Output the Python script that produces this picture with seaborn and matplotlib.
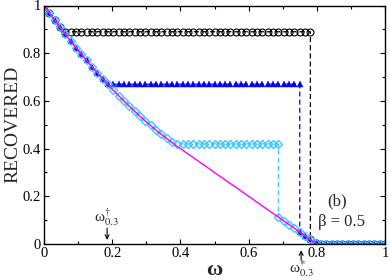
import matplotlib
matplotlib.use("Agg")
import matplotlib.pyplot as plt
from matplotlib.ticker import MultipleLocator, FuncFormatter
import pandas as pd
import seaborn as sns

# ---------------- data ----------------
omega = [0.0, 0.0156, 0.0312, 0.0469, 0.0625, 0.0781, 0.0938, 0.1094, 0.125, 0.1406,
         0.1562, 0.1719, 0.1875, 0.2031, 0.2188, 0.2344, 0.25, 0.2656, 0.2812, 0.2969,
         0.3125, 0.3281, 0.3438, 0.3594, 0.375, 0.3906, 0.4062, 0.4219, 0.4375, 0.4531,
         0.4688, 0.4844, 0.5, 0.5156, 0.5312, 0.5469, 0.5625, 0.5781, 0.5938, 0.6094,
         0.625, 0.6406, 0.6562, 0.6719, 0.6875, 0.7031, 0.7188, 0.7344, 0.75, 0.7656,
         0.7812, 0.7969, 0.8125, 0.8281, 0.8438, 0.8594, 0.875, 0.8906, 0.9062, 0.9219,
         0.9375, 0.9531, 0.9688, 0.9844, 1.0]

# solid magenta curve
curve = [1.000, 0.969, 0.939, 0.909, 0.880, 0.851, 0.823, 0.796, 0.770, 0.743,
         0.718, 0.693, 0.669, 0.645, 0.622, 0.600, 0.578, 0.557, 0.536, 0.516,
         0.497, 0.478, 0.460, 0.443, 0.426, 0.409, 0.394, 0.378, 0.363, 0.347,
         0.331, 0.316, 0.300, 0.284, 0.269, 0.253, 0.238, 0.222, 0.206, 0.191,
         0.175, 0.159, 0.144, 0.128, 0.113, 0.097, 0.081, 0.066, 0.050, 0.034,
         0.019, 0.003, 0, 0, 0, 0, 0, 0, 0, 0,
         0, 0, 0, 0, 0]

# black open circles (extra point = drop at index black_drop)
black_drop = 50
black_y = [1.000, 0.969, 0.939, 0.909, 0.890, 0.890, 0.890, 0.890, 0.890, 0.890,
           0.890, 0.890, 0.890, 0.890, 0.890, 0.890, 0.890, 0.890, 0.890, 0.890,
           0.890, 0.890, 0.890, 0.890, 0.890, 0.890, 0.890, 0.890, 0.890, 0.890,
           0.890, 0.890, 0.890, 0.890, 0.890, 0.890, 0.890, 0.890, 0.890, 0.890,
           0.890, 0.890, 0.890, 0.890, 0.890, 0.890, 0.890, 0.890, 0.890, 0.890,
           0.890, 0.019, 0.003, 0, 0, 0, 0, 0, 0, 0,
           0, 0, 0, 0, 0, 0]

# blue filled triangles
blue_drop = 48
blue_y = [1.000, 0.969, 0.939, 0.909, 0.880, 0.851, 0.823, 0.796, 0.770, 0.743,
          0.718, 0.693, 0.670, 0.670, 0.670, 0.670, 0.670, 0.670, 0.670, 0.670,
          0.670, 0.670, 0.670, 0.670, 0.670, 0.670, 0.670, 0.670, 0.670, 0.670,
          0.670, 0.670, 0.670, 0.670, 0.670, 0.670, 0.670, 0.670, 0.670, 0.670,
          0.670, 0.670, 0.670, 0.670, 0.670, 0.670, 0.670, 0.670, 0.670, 0.050,
          0.034, 0.019, 0.003, 0, 0, 0, 0, 0, 0, 0,
          0, 0, 0, 0, 0, 0]

# cyan open diamonds
cyan_drop = 44
cyan_y = [1.000, 0.969, 0.939, 0.909, 0.880, 0.851, 0.823, 0.796, 0.770, 0.743,
          0.718, 0.693, 0.669, 0.645, 0.622, 0.600, 0.578, 0.557, 0.536, 0.516,
          0.497, 0.478, 0.460, 0.443, 0.426, 0.420, 0.420, 0.420, 0.420, 0.420,
          0.420, 0.420, 0.420, 0.420, 0.420, 0.420, 0.420, 0.420, 0.420, 0.420,
          0.420, 0.420, 0.420, 0.420, 0.420, 0.113, 0.097, 0.081, 0.066, 0.050,
          0.034, 0.019, 0.003, 0, 0, 0, 0, 0, 0, 0,
          0, 0, 0, 0, 0, 0]

x_ticks = [0, 0.2, 0.4, 0.6, 0.8, 1.0]
y_ticks = [0, 0.2, 0.4, 0.6, 0.8, 1.0]


def frame(drop, ys):
    xs = omega[:drop + 1] + [omega[drop]] + omega[drop + 1:]
    return pd.DataFrame({"omega": xs, "recovered": ys})


df_black = frame(black_drop, black_y)
df_blue = frame(blue_drop, blue_y)
df_cyan = frame(cyan_drop, cyan_y)
df_curve = pd.DataFrame({"omega": omega, "recovered": curve})

# ---------------- style ----------------
sns.set_theme(style="ticks")
plt.rcParams["font.family"] = ["Liberation Serif", "DejaVu Serif"]
plt.rcParams["mathtext.fontset"] = "stix"

fig = plt.figure(figsize=(3.9, 2.8), dpi=100)
ax = fig.add_axes([44 / 390, 1 - 244 / 280, (385 - 44) / 390, (244 - 5.5) / 280])

common = dict(ax=ax, x="omega", y="recovered", estimator=None, sort=False, legend=False)

sns.lineplot(data=df_black, color="black", marker="o", markersize=5.0,
             markerfacecolor="none", markeredgecolor="black", markeredgewidth=0.8,
             linewidth=0.9, linestyle="--", **common)
ax.lines[-1].set_dashes((4, 2.5))

sns.lineplot(data=df_blue, color="#0000ff", marker="^", markersize=4.6,
             markerfacecolor="#0000ff", markeredgecolor="#0000ff", markeredgewidth=0.3,
             linewidth=0.9, linestyle="--", **common)
ax.lines[-1].set_dashes((4, 2.5))

sns.lineplot(data=df_cyan, color="#3cc8ff", marker="D", markersize=3.8,
             markerfacecolor="none", markeredgecolor="#3cc8ff", markeredgewidth=1.0,
             linewidth=0.9, linestyle="--", **common)
ax.lines[-1].set_dashes((4, 2.5))

sns.lineplot(data=df_curve, color="#ff00ff", linewidth=1.0, **common)

ax.set_xlim(0, 1)
ax.set_ylim(0, 1)
ax.set_xticks(x_ticks)
ax.set_yticks(y_ticks)
ax.xaxis.set_minor_locator(MultipleLocator(0.1))
ax.yaxis.set_minor_locator(MultipleLocator(0.1))
fmt = FuncFormatter(lambda v, _: f"{v:g}")
ax.xaxis.set_major_formatter(fmt)
ax.yaxis.set_major_formatter(fmt)
ax.tick_params(which="both", direction="in", top=True, right=True,
               width=0.8, color="black", labelcolor="black")
ax.tick_params(which="major", length=3.8, labelsize=10.5, pad=2)
ax.tick_params(which="minor", length=2.2)
for s in ax.spines.values():
    s.set_linewidth(1.0)
    s.set_color("black")

ax.set_xlabel("ω", fontsize=16, fontweight="bold", labelpad=0)
ax.set_ylabel("RECOVERED", fontsize=14, labelpad=1)

# annotations
arrow = dict(arrowstyle="->", color="black", lw=0.8, mutation_scale=7,
             shrinkA=0, shrinkB=0)
ax.annotate("", xy=(0.185, 0.017), xytext=(0.185, 0.066), arrowprops=arrow)
ax.text(0.182, 0.112, r"ω$^{\dagger}_{0.3}$", ha="center", va="center", fontsize=11)

ax.annotate("", xy=(0.754, -0.026), xytext=(0.754, -0.068), arrowprops=arrow,
            annotation_clip=False)
ax.text(0.755, -0.105, r"ω$^{*}_{0.3}$", ha="center", va="center", fontsize=11,
        clip_on=False)

ax.text(0.858, 0.177, "(b)", ha="center", va="center", fontsize=12)
ax.text(0.873, 0.093, "β = 0.5", ha="center", va="center", fontsize=12)

fig.savefig("out.png", dpi=100)
